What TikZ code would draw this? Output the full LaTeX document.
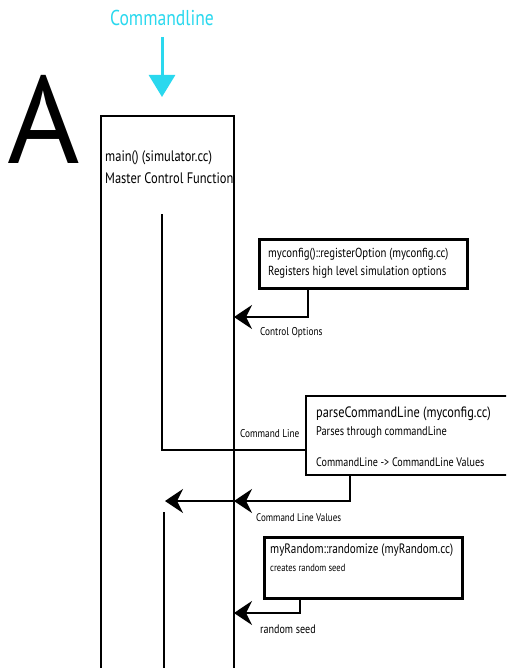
\documentclass[tikz,border=0pt]{standalone}
\usepackage{fontspec}
\setmainfont{PT Sans}[FakeStretch=0.82]
\newfontfamily\letterfont{PT Sans}
\usetikzlibrary{arrows.meta}
\definecolor{cmdcyan}{RGB}{42,216,238}
\newcommand{\fsz}[1]{\fontsize{#1}{#1}\selectfont}
\begin{document}
\begin{tikzpicture}[x=1pt,y=-1pt,
  wire/.style={line width=2.5pt},
  flow/.style={wire,-{Stealth[length=18pt,width=24pt,inset=6pt]}},
  frame/.style={draw,line width=2.7pt,minimum width=#1,inner sep=0pt,anchor=north west},
  txt/.style={anchor=west,inner sep=0pt},
  lbl/.style={anchor=west,inner sep=0pt,font=\fsz{11.3}}]
\useasboundingbox (0,0) rectangle (506,668);
\clip (0,0) rectangle (506,668);

% headline and input arrow
\node[inner sep=0pt,text=cmdcyan,font=\fsz{21.5}] (cmd) at (162,18) {Commandline};
\coordinate (cmdTop) at (162,37);
\coordinate (cmdTip) at (162,97);
\draw[line width=3pt,cmdcyan,-{Triangle[length=22pt,width=26pt]}] (cmdTop) -- (cmdTip);

% panel letter
\node[inner sep=0pt,font=\letterfont\fsz{124}] (panel) at (44,119) {A};

% master control frame, open towards the bottom
\coordinate (mainBL) at (101,680);
\coordinate (mainTL) at (101,116);
\coordinate (mainTR) at (234,116);
\coordinate (mainBR) at (234,680);
\draw[line width=2.7pt,line join=miter] (mainBL) -- (mainTL) -- (mainTR) -- (mainBR);
\node[txt,font=\fsz{15.2}] (mainA) at (105,158) {main() (simulator.cc)};
\node[txt,font=\fsz{15.2}] (mainB) at (105,178) {Master Control Function};

% option registration
\node[frame=208pt,minimum height=49pt] (cfg) at (258,238) {};
\node[txt,font=\fsz{13.1}] (cfgA) at (268,254) {myconfig()::registerOption (myconfig.cc)};
\node[txt,font=\fsz{13.1}] (cfgB) at (268,272) {Registers high level simulation options};
\coordinate (cfgOut) at (308,287);
\coordinate (ctrlIn) at (234,317);
\draw[flow] (cfgOut) |- (ctrlIn);
\node[lbl] (ctrlLbl) at (260,333) {Control Options};

% command line parsing
\coordinate (parseTR) at (520,396);
\coordinate (parseTL) at (306,396);
\coordinate (parseBL) at (306,475);
\coordinate (parseBR) at (520,475);
\draw[line width=2.7pt,line join=miter] (parseTR) -- (parseTL) -- (parseBL) -- (parseBR);
\node[txt,font=\fsz{15}] (parseA) at (316,414) {parseCommandLine (myconfig.cc)};
\node[txt,font=\fsz{12.6}] (parseB) at (316,432) {Parses through commandLine};
\node[txt,font=\fsz{12.3}] (parseC) at (316,462) {CommandLine -> CommandLine Values};

\coordinate (mainCmd) at (162,214);
\coordinate (parseIn) at (306,450);
\draw[wire] (mainCmd) |- (parseIn);
\node[lbl] (cmdLbl) at (240,434) {Command Line};

\coordinate (parseOut) at (350,475);
\coordinate (valIn) at (234,501);
\coordinate (valInner) at (165,501);
\draw[flow] (parseOut) |- (valIn);
\draw[flow] (valIn) -- (valInner);
\node[lbl,font=\fsz{11}] (valLbl) at (256,518) {Command Line Values};

\coordinate (innerTop) at (164,512);
\coordinate (innerBot) at (164,680);
\draw[wire] (innerTop) -- (innerBot);

% random seed
\node[frame=198pt,minimum height=61pt] (rnd) at (263,536) {};
\node[txt,font=\fsz{13.6}] (rndA) at (270,550) {myRandom::randomize (myRandom.cc)};
\node[txt,font=\fsz{10.4}] (rndB) at (270,568) {creates random seed};
\coordinate (rndOut) at (300,597);
\coordinate (seedIn) at (234,613);
\draw[flow] (rndOut) |- (seedIn);
\node[lbl,font=\fsz{12.3}] (seedLbl) at (260,629) {random seed};
\end{tikzpicture}
\end{document}
